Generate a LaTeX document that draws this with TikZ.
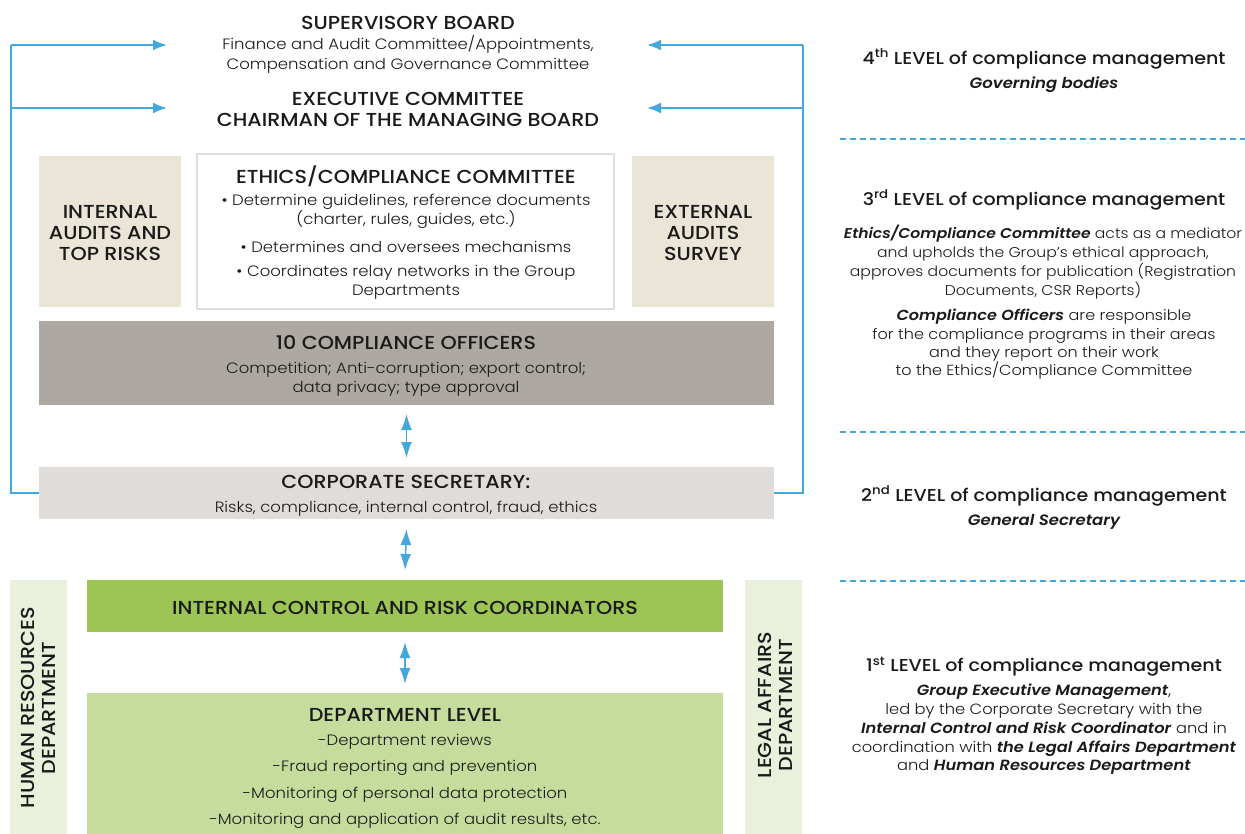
\documentclass[tikz,border=0pt]{standalone}
\usepackage{fontspec}
\setmainfont{Poppins}[UprightFont={Poppins Light},BoldFont={Poppins Medium},ItalicFont={Poppins Light Italic},BoldItalicFont={Poppins SemiBold Italic},FakeStretch=1.1]
\usetikzlibrary{arrows.meta}
\definecolor{cblue}{HTML}{45A8DC}
\definecolor{cbeige}{HTML}{EBE5D7}
\definecolor{coff}{HTML}{ADA9A2}
\definecolor{csec}{HTML}{E0DCD9}
\definecolor{cpale}{HTML}{E9F1DC}
\definecolor{cicr}{HTML}{9DC556}
\definecolor{cdep}{HTML}{C6DC9D}
\definecolor{cborder}{HTML}{E0DEDC}
\definecolor{ctext}{HTML}{1A1A1A}
\tikzset{
  box/.style={draw=none,anchor=north west,inner sep=0pt,outer sep=0pt},
  ttl/.style={inner sep=0pt,align=center,font=\fontsize{18.8}{21}\selectfont\bfseries,text=ctext},
  rttl/.style={inner sep=0pt,align=center,font=\fontsize{17.3}{21}\selectfont\bfseries,text=ctext},
  txt/.style={inner sep=0pt,align=center,font=\fontsize{15}{19}\selectfont,text=ctext},
  bl/.style={draw=cblue,line width=2pt},
  bla/.style={draw=cblue,line width=2pt,-{Latex[length=14pt,width=11pt]}},
  dbl/.style={draw=cblue,line width=1.5pt,{Latex[length=16pt,width=11pt]}-{Latex[length=16pt,width=11pt]}},
  dsh/.style={draw=cblue,line width=2pt,dash pattern=on 6pt off 4pt}
}
\begin{document}
\begin{tikzpicture}[x=1pt,y=-1pt]
\useasboundingbox (0,0) rectangle (1245,834);
% boxes
\node[box,fill=cbeige,minimum width=142pt,minimum height=151pt] (ib) at (39,156) {};
\node[box,fill=white,draw=cborder,line width=2.5pt,minimum width=417pt,minimum height=155pt] (ecc) at (197,154) {};
\node[box,fill=cbeige,minimum width=142pt,minimum height=151pt] (eb) at (632,156) {};
\node[box,fill=coff,minimum width=735pt,minimum height=84pt] (off) at (39,321) {};
\node[box,fill=csec,minimum width=735pt,minimum height=52pt] (sec) at (39,467) {};
\node[box,fill=cpale,minimum width=57pt,minimum height=254pt] (hr) at (10,580) {};
\node[box,fill=cicr,minimum width=636pt,minimum height=52pt] (icr) at (87,580) {};
\node[box,fill=cdep,minimum width=636pt,minimum height=141pt] (dep) at (87,693) {};
\node[box,fill=cpale,minimum width=57pt,minimum height=254pt] (legal) at (745,580) {};
% texts
\node[ttl] (sbT) at (408,23) {SUPERVISORY BOARD};
\node[txt,font=\fontsize{15}{20}\selectfont] (sbS) at (408,54) {Finance and Audit Committee/Appointments,\\Compensation and Governance Committee};
\node[ttl] (exT) at (408,109.5) {EXECUTIVE COMMITTEE\\CHAIRMAN OF THE MANAGING BOARD};
\node[ttl] (ibT) at (110,233) {INTERNAL\\AUDITS AND\\TOP RISKS};
\node[ttl] (ebT) at (703,233) {EXTERNAL\\AUDITS\\SURVEY};
\node[ttl] (eccT) at (406,176) {ETHICS/COMPLIANCE COMMITTEE};
\node[txt] (b1) at (406,211.5) {• Determine guidelines, reference documents\\(charter, rules, guides, etc.)};
\node[txt] (b2) at (406,247) {• Determines and oversees mechanisms};
\node[txt] (b3) at (406,282.5) {• Coordinates relay networks in the Group\\Departments};
\node[ttl] (offT) at (406,343) {10 COMPLIANCE OFFICERS};
\node[txt] (offS) at (406,379.5) {Competition; Anti-corruption; export control;\\data privacy; type approval};
\node[ttl] (secT) at (406,482) {CORPORATE SECRETARY:};
\node[txt] (secS) at (406,509) {Risks, compliance, internal control, fraud, ethics};
\node[ttl] (icrT) at (405,608) {INTERNAL CONTROL AND RISK COORDINATORS};
\node[ttl] (depT) at (405,715) {DEPARTMENT LEVEL};
\node[txt,font=\fontsize{15}{26.3}\selectfont] (depS) at (405,781.5) {-Department reviews\\-Fraud reporting and prevention\\-Monitoring of personal data protection\\-Monitoring and application of audit results, etc.};
\node[ttl,rotate=90] (hrT) at (38,708) {HUMAN RESOURCES\\DEPARTMENT};
\node[ttl,rotate=90] (legalT) at (775,705) {LEGAL AFFAIRS\\DEPARTMENT};
% right side
\node[rttl] (l4) at (1044,59) {4\textsuperscript{th} LEVEL of compliance management};
\node[txt,font=\fontsize{15}{19}\selectfont\bfseries\itshape] (l4s) at (1044,85) {Governing bodies};
\node[rttl] (l3) at (1044,200) {3\textsuperscript{rd} LEVEL of compliance management};
\node[txt,font=\fontsize{14.2}{19}\selectfont] (l3a) at (1043,262.5) {\textbf{\textit{Ethics/Compliance Committee}} acts as a mediator\\and upholds the Group’s ethical approach,\\approves documents for publication (Registration\\Documents, CSR Reports)};
\node[txt,font=\fontsize{14.6}{18.3}\selectfont] (l3b) at (1044,344.5) {\textbf{\textit{Compliance Officers}} are responsible\\for the compliance programs in their areas\\and they report on their work\\to the Ethics/Compliance Committee};
\node[rttl] (l2) at (1044,496) {2\textsuperscript{nd} LEVEL of compliance management};
\node[txt,font=\fontsize{15}{19}\selectfont\bfseries\itshape] (l2s) at (1044,522) {General Secretary};
\node[rttl] (l1) at (1044,667) {1\textsuperscript{st} LEVEL of compliance management};
\node[txt,font=\fontsize{14.8}{18.75}\selectfont] (l1s) at (1044,729.5) {\textbf{\textit{Group Executive Management}},\\led by the Corporate Secretary with the\\\textbf{\textit{Internal Control and Risk Coordinator}} and in\\coordination with \textbf{\textit{the Legal Affairs Department}}\\and \textbf{\textit{Human Resources Department}}};
% dashed separators
\coordinate (d1a) at (840,139); \coordinate (d1b) at (1245,139);
\coordinate (d2a) at (840,432); \coordinate (d2b) at (1245,432);
\coordinate (d3a) at (840,581); \coordinate (d3b) at (1245,581);
\draw[dsh] (d1a) -- (d1b);
\draw[dsh] (d2a) -- (d2b);
\draw[dsh] (d3a) -- (d3b);
% blue feedback lines
\coordinate (lt) at (11,45); \coordinate (lm) at (11,108);
\coordinate (rt) at (803,45); \coordinate (rm) at (803,108);
\coordinate (aL1) at (167,45); \coordinate (aL2) at (167,108);
\coordinate (aR1) at (647,45); \coordinate (aR2) at (647,108);
\draw[bl] (sec.west) -| (lt);
\draw[bl] (sec.east) -| (rt);
\draw[bla] (lt) -- (aL1);
\draw[bla] (lm) -- (aL2);
\draw[bla] (rt) -- (aR1);
\draw[bla] (rm) -- (aR2);
% vertical double arrows
\draw[dbl] ([yshift=-9pt]off.south) -- ([yshift=9pt]sec.north);
\draw[dbl] ([yshift=-10pt]sec.south) -- ([yshift=10pt]icr.north);
\draw[dbl] ([yshift=-10pt]icr.south) -- ([yshift=9pt]dep.north);
\end{tikzpicture}
\end{document}
